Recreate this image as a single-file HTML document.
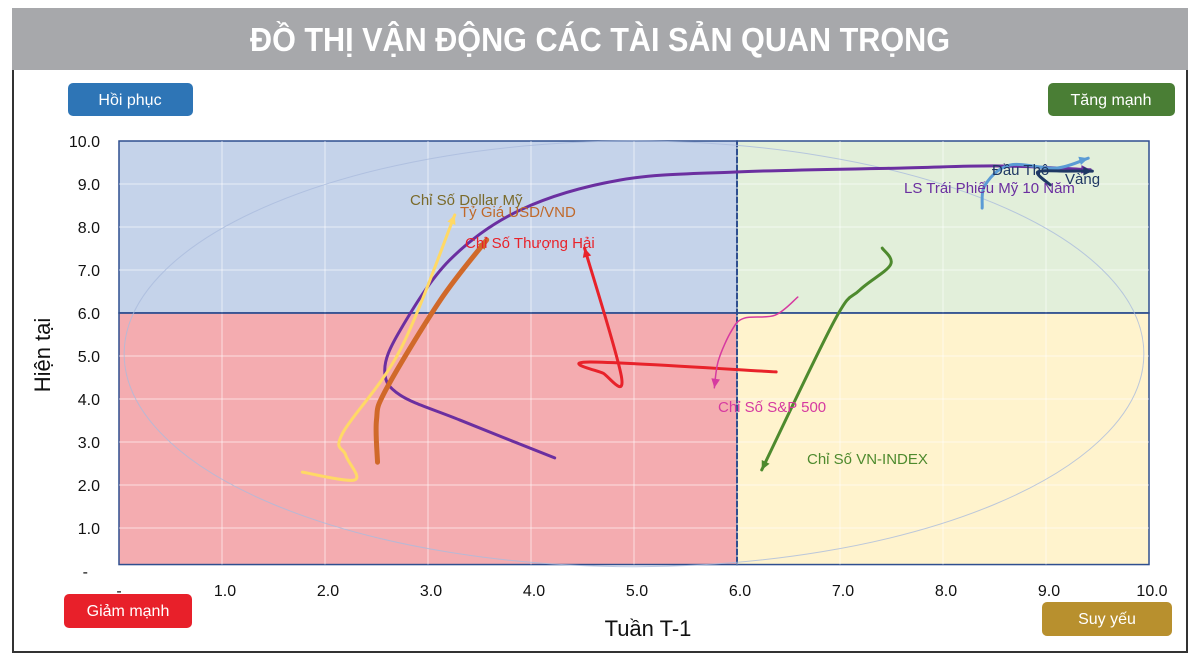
<!DOCTYPE html>
<html><head><meta charset="utf-8"><style>
body{margin:0;background:#fff;}
svg{display:block;font-family:"Liberation Sans",sans-serif;}
</style></head><body>
<svg id="c" width="1200" height="669" viewBox="0 0 1200 669" xmlns="http://www.w3.org/2000/svg">
<rect x="12" y="8" width="1176" height="62" fill="#a7a8ab"/>
<text x="600" y="51" text-anchor="middle" fill="#fff" font-weight="bold" font-size="33" textLength="700" lengthAdjust="spacingAndGlyphs">ĐỒ THỊ VẬN ĐỘNG CÁC TÀI SẢN QUAN TRỌNG</text>
<path d="M13 70 V652 H1187 V70" fill="none" stroke="#333" stroke-width="2"/>
<g id="plot"></g>
<g><rect x="68" y="83" width="125" height="33" rx="5" fill="#2e75b6"/><text x="130" y="105" text-anchor="middle" fill="#fff" font-size="16">Hồi phục</text></g>
<g><rect x="1048" y="83" width="127" height="33" rx="5" fill="#4a7e35"/><text x="1111" y="105" text-anchor="middle" fill="#fff" font-size="16">Tăng mạnh</text></g>
<g><rect x="64" y="594" width="128" height="34" rx="5" fill="#e8202a"/><text x="128" y="616" text-anchor="middle" fill="#fff" font-size="16">Giảm mạnh</text></g>
<g><rect x="1042" y="602" width="130" height="34" rx="5" fill="#b8902e"/><text x="1107" y="624" text-anchor="middle" fill="#fff" font-size="16">Suy yếu</text></g>
<text transform="translate(50,355) rotate(-90)" text-anchor="middle" font-size="22" fill="#111">Hiện tại</text>
<text x="648" y="636" text-anchor="middle" font-size="22" fill="#111">Tuần T-1</text>
</svg>
<script>
const xTicks=[0,1,2,3,4,5,6,7,8,9,10];
const yTicks=[0,1,2,3,4,5,6,7,8,9,10];
const treasury=[[4.23,2.63],[3.31,3.51],[2.73,4.09],[2.58,4.67],[2.73,5.6],[3.21,7.23],[3.9,8.4],[4.86,9.09],[5.99,9.28],[7.58,9.37],[8.55,9.42],[9.43,9.33]];
const dollar=[[1.78,2.3],[2.29,2.12],[2.2,2.7],[2.17,3.2],[2.73,5.14],[3.26,8.28]];
const usdvnd=[[2.51,2.53],[2.5,3.51],[2.59,4.21],[3.12,6.3],[3.57,7.7]];
const shanghai=[[6.38,4.63],[4.57,4.86],[4.7,4.6],[4.88,4.49],[4.52,7.51]];
const sp500=[[6.59,6.37],[6.37,5.95],[6.07,5.88],[5.95,5.6],[5.82,4.9],[5.78,4.26]];
const vnindex=[[7.41,7.51],[7.49,7.12],[7.19,6.53],[6.95,5.84],[6.24,2.35]];
const gold=[[8.38,8.44],[8.41,8.98],[8.65,9.44],[9.1,9.37],[9.41,9.6]];
const oil=[[9.04,8.98],[8.92,9.28],[9.2,9.3],[9.45,9.3]];
const X=v=>119+103*v, Y=v=>571-43*v;
const NS="http://www.w3.org/2000/svg";
const g=document.getElementById('plot');
function mk(t,a){const e=document.createElementNS(NS,t);for(const k in a)e.setAttribute(k,a[k]);g.appendChild(e);return e;}
let e;
e=mk('rect',{x:X(0),y:Y(10),width:X(6)-X(0),height:Y(6)-Y(10),fill:'#c5d3ea',stroke:'#2f4f8f','stroke-width':1.5});


e=mk('rect',{x:X(6),y:Y(10),width:X(10)-X(6),height:Y(6)-Y(10),fill:'#e2efda',stroke:'#2f4f8f','stroke-width':1.5});


e=mk('rect',{x:X(0),y:Y(6),width:X(6)-X(0),height:Y(0.15)-Y(6),fill:'#f4acb0',stroke:'#2f4f8f','stroke-width':1.5});


e=mk('rect',{x:X(6),y:Y(6),width:X(10)-X(6),height:Y(0.15)-Y(6),fill:'#fff3cd',stroke:'#2f4f8f','stroke-width':1.5});


xTicks.forEach(t=>{if(t>0&&t<10){e=mk('line',{x1:X(t),x2:X(t),y1:Y(10),y2:Y(0.15),stroke:'#fff','stroke-opacity':0.6});

}
e=mk('text',{x:X(t)+(t==0?0:3),y:596,'text-anchor':'middle','font-size':16,fill:'#111'});e.textContent=t==0?'-':t.toFixed(1);

});
yTicks.forEach(t=>{if(t>0&&t<10){e=mk('line',{x1:X(0),x2:X(10),y1:Y(t),y2:Y(t),stroke:'#fff','stroke-opacity':0.6});

}
e=mk('text',{x:t==0?88:100,y:Y(t)+6,'text-anchor':'end','font-size':16,fill:'#111'});e.textContent=t==0?'-':t.toFixed(1);

});
e=mk('line',{x1:X(6),x2:X(6),y1:Y(10),y2:Y(0.15),stroke:'#2f4f8f','stroke-width':2,'stroke-dasharray':'6 2'});


e=mk('line',{x1:X(0),x2:X(10),y1:Y(6),y2:Y(6),stroke:'#2f4f8f','stroke-width':1.5});


e=mk('ellipse',{cx:X(5),cy:Y(5.05),rx:X(9.95)-X(5),ry:Y(0.1)-Y(5.05),fill:'none',stroke:'#aabbdd','stroke-width':1,'stroke-opacity':0.8});


function curve(pts){const p=pts.map(q=>[X(q[0]),Y(q[1])]);let d='M'+p[0];for(let i=0;i<p.length-1;i++){const p0=p[i-1]||p[i],p1=p[i],p2=p[i+1],p3=p[i+2]||p2;d+=' C'+(p1[0]+(p2[0]-p0[0])/6)+','+(p1[1]+(p2[1]-p0[1])/6)+' '+(p2[0]-(p3[0]-p1[0])/6)+','+(p2[1]-(p3[1]-p1[1])/6)+' '+p2;}return d;}
function arrow(pts){const n=pts.length,a=[X(pts[n-2][0]),Y(pts[n-2][1])],b=[X(pts[n-1][0]),Y(pts[n-1][1])];const ang=Math.atan2(b[1]-a[1],b[0]-a[0]),L=10,s=0.45;return 'M'+b+' L'+(b[0]-L*Math.cos(ang-s))+','+(b[1]-L*Math.sin(ang-s))+' L'+(b[0]-L*Math.cos(ang+s))+','+(b[1]-L*Math.sin(ang+s))+'Z';}
const series=[[treasury,'#6b2fa0',3,'series-us-10y-yield'],[dollar,'#ffd966',3,'series-dollar-index'],[usdvnd,'#d0692a',5,'series-usd-vnd'],[shanghai,'#e8222a',3,'series-shanghai'],[sp500,'#d63aa0',1.5,'series-sp500'],[vnindex,'#4e8a2e',3,'series-vn-index'],[gold,'#5b9bd5',3,'series-gold'],[oil,'#1f3864',3,'series-crude-oil']];
series.forEach(s=>{e=mk('path',{d:curve(s[0]),fill:'none',stroke:s[1],'stroke-width':s[2],'stroke-linecap':'round','stroke-linejoin':'round'});


e=mk('path',{d:arrow(s[0]),fill:s[1]});

});
const labels=[['Chỉ Số Dollar Mỹ',410,205,'#7a6a2a','label-dollar-index'],['Tỷ Giá USD/VND',460,217,'#c0692a','label-usd-vnd'],['Chỉ Số Thượng Hải',465,248,'#e8222a','label-shanghai'],['Chỉ Số S&P 500',718,412,'#d63aa0','label-sp500'],['Chỉ Số VN-INDEX',807,464,'#4e8a2e','label-vn-index'],['Đầu Thô',992,175,'#1f3864','label-crude-oil'],['Vàng',1065,184,'#1f3864','label-gold'],['LS Trái Phiếu Mỹ 10 Năm',904,193,'#6b2fa0','label-us-10y']];
labels.forEach(l=>{e=mk('text',{x:l[1],y:l[2],fill:l[3],'font-size':15});e.textContent=l[0];

});
</script>
</body></html>
